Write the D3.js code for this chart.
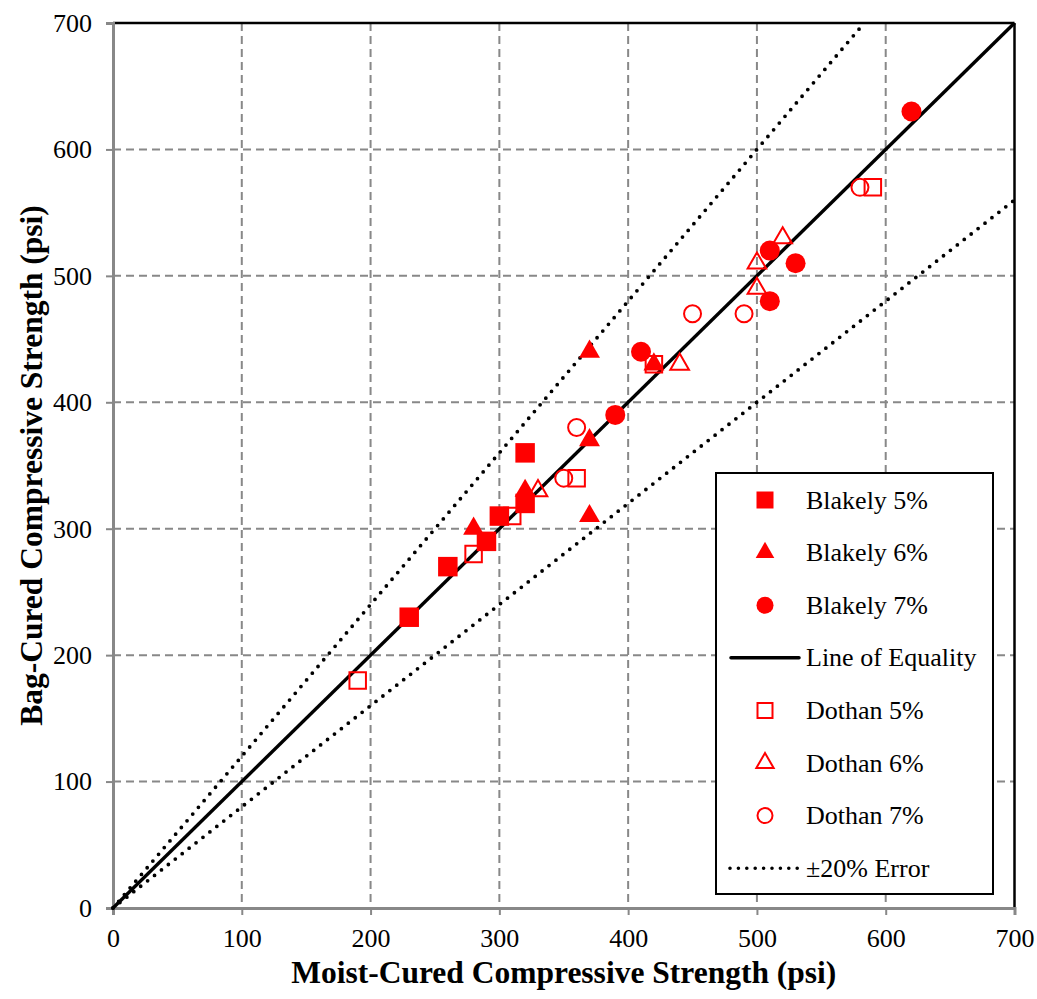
<!DOCTYPE html>
<html>
<head>
<meta charset="utf-8">
<script src="https://cdn.jsdelivr.net/npm/d3@7"></script>
<style>
  html, body { margin: 0; padding: 0; background: #fff; }
  svg { display: block; font-family: "Liberation Serif", "Times New Roman", serif; }
</style>
</head>
<body>
<svg id="chart" width="1037" height="999"></svg>
<script>
// ---- Data ----
const xTicks = [0, 100, 200, 300, 400, 500, 600, 700];
const yTicks = [0, 100, 200, 300, 400, 500, 600, 700];

const blakely5 = [[230, 230], [260, 270], [290, 290], [300, 310], [320, 320], [320, 360]];
const blakely6 = [[280, 300], [320, 330], [370, 310], [370, 370], [370, 440], [420, 430]];
const blakely7 = [[390, 390], [410, 440], [510, 520], [530, 510], [510, 480], [620, 630]];
const dothan5 = [[190, 180], [280, 280], [310, 310], [360, 340], [420, 430], [590, 570]];
const dothan6 = [[330, 330], [440, 430], [500, 490], [500, 510], [520, 530]];
const dothan7 = [[360, 380], [350, 340], [450, 470], [490, 470], [580, 570]];

const equalityLine = [[0, 0], [700, 700]];
const upperError = [[0, 0], [700 / 1.2, 700]];
const lowerError = [[0, 0], [700, 560]];

const legendLabels = ["Blakely 5%", "Blakely 6%", "Blakely 7%", "Line of Equality",
                      "Dothan 5%", "Dothan 6%", "Dothan 7%", "\u00B120% Error"];

// ---- Layout ----
const svg = d3.select("#chart");
const pLeft = 113, pRight = 1014.5, pTop = 23, pBottom = 908;
const x = d3.scaleLinear().domain([0, 700]).range([pLeft, pRight]);
const y = d3.scaleLinear().domain([0, 700]).range([pBottom, pTop]);
const red = "#FF0000";
const grid = "#888888";

// Gridlines
const g = svg.append("g");
g.selectAll("line.vg").data(xTicks.slice(1, -1)).enter().append("line")
  .attr("x1", d => x(d)).attr("x2", d => x(d))
  .attr("y1", pTop).attr("y2", pBottom)
  .attr("stroke", grid).attr("stroke-width", 2).attr("stroke-dasharray", "8,5");
g.selectAll("line.hg").data(yTicks.slice(1, -1)).enter().append("line")
  .attr("y1", d => y(d)).attr("y2", d => y(d))
  .attr("x1", pLeft).attr("x2", pRight)
  .attr("stroke", grid).attr("stroke-width", 2).attr("stroke-dasharray", "8,5");

// Frame top/right black
svg.append("line").attr("x1", pLeft).attr("x2", pRight).attr("y1", pTop).attr("y2", pTop)
  .attr("stroke", "#000").attr("stroke-width", 2.5);
svg.append("line").attr("x1", pRight).attr("x2", pRight).attr("y1", pTop).attr("y2", pBottom)
  .attr("stroke", "#000").attr("stroke-width", 2.5);

// Axes
const xAxis = d3.axisBottom(x).tickValues(xTicks).tickSize(7).tickPadding(14).tickFormat(d3.format("d"));
const yAxis = d3.axisLeft(y).tickValues(yTicks).tickSize(7).tickPadding(14).tickFormat(d3.format("d"));

const gx = svg.append("g").attr("transform", `translate(0,${pBottom})`).call(xAxis);
const gy = svg.append("g").attr("transform", `translate(${pLeft},0)`).call(yAxis);
[gx, gy].forEach(ax => {
  ax.select(".domain").attr("stroke", grid).attr("stroke-width", 3);
  ax.selectAll(".tick line").attr("stroke", grid).attr("stroke-width", 2);
  ax.selectAll(".tick text").attr("font-family", "Liberation Serif").attr("font-size", 26).attr("fill", "#000");
});

// Lines
const lineGen = d3.line().x(d => x(d[0])).y(d => y(d[1]));

svg.append("path").datum(upperError).attr("d", lineGen).attr("fill", "none")
  .attr("stroke", "#000").attr("stroke-width", 3.8).attr("stroke-linecap", "round")
  .attr("stroke-dasharray", "0,8.8");
svg.append("path").datum(lowerError).attr("d", lineGen).attr("fill", "none")
  .attr("stroke", "#000").attr("stroke-width", 3.8).attr("stroke-linecap", "round")
  .attr("stroke-dasharray", "0,8.8");
svg.append("path").datum(equalityLine).attr("d", lineGen).attr("fill", "none")
  .attr("stroke", "#000").attr("stroke-width", 3.4);

// Markers
const symSquare = d3.symbol().type(d3.symbolSquare).size(19.5 * 19.5);
const symSquareOpen = d3.symbol().type(d3.symbolSquare).size(16.5 * 16.5);
const symTri = d3.symbol().type(d3.symbolTriangle).size(190);
const symTriOpen = d3.symbol().type(d3.symbolTriangle).size(150);
const symCirc = d3.symbol().type(d3.symbolCircle).size(Math.PI * 10 * 10);
const symCircOpen = d3.symbol().type(d3.symbolCircle).size(Math.PI * 8.5 * 8.5);

function drawSeries(data, sym, filled) {
  svg.append("g").selectAll("path").data(data).enter().append("path")
    .attr("d", sym)
    .attr("transform", d => `translate(${x(d[0])},${y(d[1])})`)
    .attr("fill", filled ? red : "none")
    .attr("stroke", filled ? "none" : red)
    .attr("stroke-width", filled ? 0 : 2);
}
drawSeries(dothan5, symSquareOpen, false);
drawSeries(dothan6, symTriOpen, false);
drawSeries(dothan7, symCircOpen, false);
drawSeries(blakely5, symSquare, true);
drawSeries(blakely6, symTri, true);
drawSeries(blakely7, symCirc, true);

// Legend
const lg = svg.append("g");
lg.append("rect").attr("x", 716).attr("y", 473).attr("width", 277).attr("height", 421)
  .attr("fill", "#fff").attr("stroke", "#000").attr("stroke-width", 2);
const rowY = i => 500 + i * 52.6;
const symX = 765;
const legendSyms = [
  [d3.symbol().type(d3.symbolSquare).size(17 * 17), true],
  [d3.symbol().type(d3.symbolTriangle).size(150), true],
  [d3.symbol().type(d3.symbolCircle).size(Math.PI * 8.5 * 8.5), true],
  null,
  [d3.symbol().type(d3.symbolSquare).size(15 * 15), false],
  [d3.symbol().type(d3.symbolTriangle).size(130), false],
  [d3.symbol().type(d3.symbolCircle).size(Math.PI * 7.5 * 7.5), false],
  null
];
legendLabels.forEach((label, i) => {
  const yy = rowY(i);
  if (legendSyms[i]) {
    const [s, filled] = legendSyms[i];
    lg.append("path").attr("d", s)
      .attr("transform", `translate(${symX},${yy})`)
      .attr("fill", filled ? red : "none")
      .attr("stroke", filled ? "none" : red)
      .attr("stroke-width", filled ? 0 : 2);
  } else if (i === 3) {
    lg.append("line").attr("x1", 731).attr("x2", 799).attr("y1", yy).attr("y2", yy)
      .attr("stroke", "#000").attr("stroke-width", 3.5).attr("stroke-linecap", "round");
  } else {
    lg.append("line").attr("x1", 730).attr("x2", 799).attr("y1", yy).attr("y2", yy)
      .attr("stroke", "#000").attr("stroke-width", 3.6).attr("stroke-linecap", "round")
      .attr("stroke-dasharray", "0,8.4");
  }
  lg.append("text").attr("x", 806).attr("y", yy).attr("dy", "0.33em")
    .attr("font-size", 26).attr("fill", "#000").text(label);
});

// Axis titles
svg.append("text").attr("x", (pLeft + pRight) / 2).attr("y", 983)
  .attr("text-anchor", "middle").attr("font-weight", "bold").attr("font-size", 31.5)
  .text("Moist-Cured Compressive Strength (psi)");
svg.append("text").attr("transform", `translate(42,${(pTop + pBottom) / 2}) rotate(-90)`)
  .attr("text-anchor", "middle").attr("font-weight", "bold").attr("font-size", 31.5)
  .text("Bag-Cured Compressive Strength (psi)");
</script>
</body>
</html>
